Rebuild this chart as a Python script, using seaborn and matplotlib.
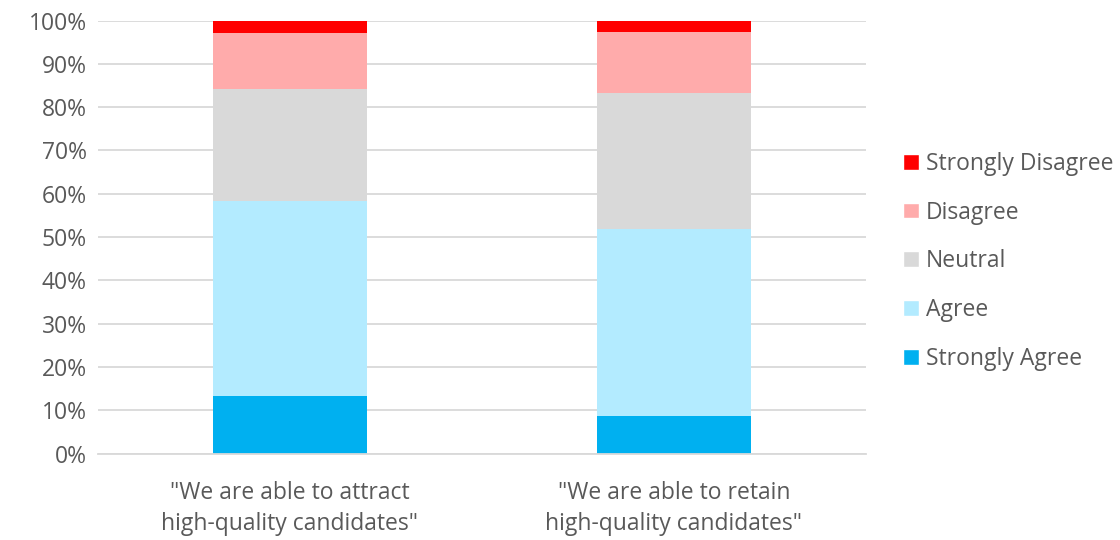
import matplotlib
matplotlib.use("Agg")
import matplotlib.pyplot as plt
import seaborn as sns
import numpy as np
import pandas as pd
from matplotlib.patches import Patch

categories = ['"We are able to attract\nhigh-quality candidates"',
              '"We are able to retain\nhigh-quality candidates"']
levels = ["Strongly Agree", "Agree", "Neutral", "Disagree", "Strongly Disagree"]
strongly_agree = [13.3, 8.6]
agree = [45.1, 43.2]
neutral = [25.8, 31.5]
disagree = [12.9, 14.0]
strongly_disagree = [2.9, 2.7]
colors = ["#00B0F0", "#B3EBFF", "#D9D9D9", "#FFABAB", "#FF0000"]
yticks = [0, 10, 20, 30, 40, 50, 60, 70, 80, 90, 100]
ytick_labels = [f"{v}%" for v in yticks]

sns.set_theme(style="white")
plt.rcParams['font.family'] = ['Open Sans', 'DejaVu Sans']

series = [strongly_agree, agree, neutral, disagree, strongly_disagree]
cum = np.cumsum(np.array(series), axis=0)

fig = plt.figure(figsize=(11.2, 5.4), dpi=100)
ax = fig.add_axes([0.0875, 0.160, 0.773 - 0.0875, 0.802])

# draw from top layer (cumulative total) to bottom so lower layers overlay
for i in range(len(levels) - 1, -1, -1):
    df = pd.DataFrame({"cat": categories, "val": cum[i]})
    sns.barplot(data=df, x="cat", y="val", color=colors[i], width=0.4,
                ax=ax, saturation=1, zorder=2, linewidth=0)

ax.set_ylim(0, 100)
ax.set_xlim(-0.5, 1.5)
ax.set_yticks(yticks)
ax.set_yticklabels(ytick_labels)
ax.set_xlabel("")
ax.set_ylabel("")
ax.yaxis.grid(True, color="#D9D9D9", linewidth=1.3, zorder=0)
ax.set_axisbelow(True)
for s in ["top", "right", "left"]:
    ax.spines[s].set_visible(False)
ax.spines["bottom"].set_color("#D9D9D9")
ax.spines["bottom"].set_linewidth(1.3)
ax.tick_params(axis="both", length=0, labelsize=16.5, labelcolor="#595959")
ax.tick_params(axis="y", pad=8)
ax.tick_params(axis="x", pad=20)
for t in ax.get_xticklabels():
    t.set_linespacing(1.35)

handles = [Patch(facecolor=colors[i], label=levels[i]) for i in range(len(levels) - 1, -1, -1)]
leg = fig.legend(handles=handles, loc="center left", bbox_to_anchor=(0.788, 0.516),
                 frameon=False, fontsize=16.5, handlelength=0.68, handleheight=0.68,
                 labelspacing=1.08, handletextpad=0.3)
for t in leg.get_texts():
    t.set_color("#595959")

fig.savefig("out.png", dpi=100)
